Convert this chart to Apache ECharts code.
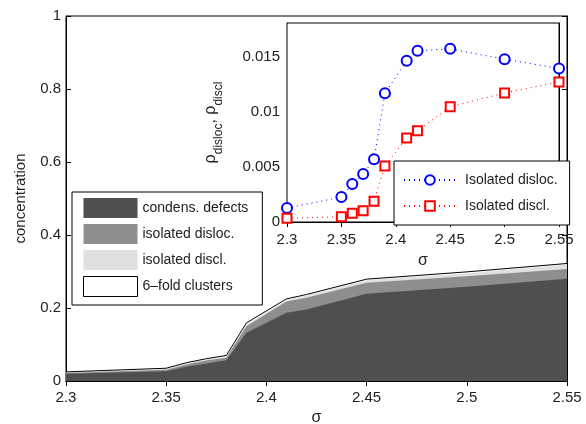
<!DOCTYPE html>
<html>
<head>
<meta charset="utf-8">
<script src="https://cdn.jsdelivr.net/npm/echarts@6/dist/echarts.min.js"></script>
<style>
  html, body { margin: 0; padding: 0; background: #fff; }
  #chart { width: 586px; height: 424px; }
</style>
</head>
<body>
<div id="chart"></div>
<script>
// sigma values shared by all curves
const sigma = [2.3, 2.35, 2.36, 2.37, 2.38, 2.39, 2.41, 2.42, 2.45, 2.5, 2.55];

// stacked concentration layers (main plot), bottom to top
const condensDefects = [0.020, 0.027, 0.039, 0.048, 0.057, 0.132, 0.187, 0.196, 0.239, 0.258, 0.280];
const isoDislocConc  = [0.002, 0.004, 0.006, 0.008, 0.007, 0.018, 0.031, 0.032, 0.030, 0.029, 0.027];
const isoDisclConc   = [0.002, 0.002, 0.002, 0.003, 0.003, 0.004, 0.004, 0.006, 0.007, 0.008, 0.012];
const sixFold        = [0.001, 0.002, 0.003, 0.002, 0.003, 0.005, 0.003, 0.003, 0.003, 0.004, 0.003];

// inset densities
const rhoDisloc = [0.00127, 0.00227, 0.00345, 0.00436, 0.0057, 0.0117, 0.01466, 0.01557, 0.01575, 0.0148, 0.01397];
const rhoDiscl  = [0.00034, 0.00048, 0.00079, 0.00103, 0.00188, 0.0051, 0.00764, 0.0083, 0.01048, 0.01173, 0.01273];

const mainNames = ['condens. defects', 'isolated disloc.', 'isolated discl.', '6\u2013fold clusters'];
const insetNames = ['Isolated disloc.', 'Isolated discl.'];

const FONT = "'Liberation Sans', Arial, sans-serif";
const TXT = '#222';
const FILLS = ['#4f4f4f', '#8e8e8e', '#e0e0e0', '#ffffff'];

function pairs(ys) {
  return sigma.map(function (s, i) { return [s, ys[i]]; });
}

// cumulative tops of the layers (area plot stacking)
let layers = [condensDefects, isoDislocConc, isoDisclConc, sixFold];
let tops = [];
let run = sigma.map(function () { return 0; });
layers.forEach(function (l) {
  run = run.map(function (v, i) { return v + l[i]; });
  tops.push(run.slice());
});

let chart = echarts.init(document.getElementById('chart'));

function xAx(grid, pos, labels, name, gap, margin) {
  return {
    type: 'value', gridIndex: grid, position: pos,
    min: 2.3, max: 2.55, interval: 0.05,
    axisLine: { show: true, lineStyle: { color: '#000', width: 1 } },
    axisTick: { show: true, inside: true, length: 5, lineStyle: { color: '#000' } },
    axisLabel: {
      show: labels, fontSize: 15, color: TXT, fontFamily: FONT, margin: margin,
      formatter: function (v) { return String(Math.round(v * 100) / 100); }
    },
    splitLine: { show: false },
    name: name, nameLocation: 'middle', nameGap: gap,
    nameTextStyle: { fontSize: 16, color: TXT, fontFamily: FONT }
  };
}

function yAx(grid, pos, max, interval, labels, digits, margin) {
  return {
    type: 'value', gridIndex: grid, position: pos, min: 0, max: max, interval: interval,
    axisLine: { show: true, lineStyle: { color: '#000' } },
    axisTick: { show: true, inside: true, length: 5, lineStyle: { color: '#000' } },
    axisLabel: { show: labels, fontSize: 15, color: TXT, fontFamily: FONT, margin: margin, showMaxLabel: max === 1,
      formatter: function (v) { return String(Math.round(v * digits) / digits); } },
    splitLine: { show: false }
  };
}

// main layers: draw the highest cumulative top first so lower ones cover it
let mainSeries = [];
for (let k = 3; k >= 0; k--) {
  mainSeries.push({
    name: mainNames[k], type: 'line', xAxisIndex: 0, yAxisIndex: 0,
    data: pairs(tops[k]), showSymbol: false, color: FILLS[k],
    itemStyle: { color: FILLS[k], borderColor: k === 3 ? '#000' : FILLS[k], borderWidth: k === 3 ? 1 : 0 },
    lineStyle: k === 3 ? { color: '#000', width: 1 } : { opacity: 0 },
    areaStyle: { color: FILLS[k], opacity: 1 }
  });
}

let leftY = yAx(0, 'left', 1, 0.2, true, 10, 5);
leftY.name = 'concentration';
leftY.nameLocation = 'middle';
leftY.nameGap = 38;
leftY.nameTextStyle = { fontSize: 15, color: TXT, fontFamily: FONT };

let insetY = yAx(1, 'left', 0.0181, 0.005, true, 1000, 7);
insetY.name = '{r|\u03c1}{s|disloc}{r|, \u03c1}{s|discl}';
insetY.nameLocation = 'middle';
insetY.nameGap = 62;
insetY.nameTextStyle = {
  color: TXT, fontFamily: FONT,
  rich: {
    r: { fontSize: 16, lineHeight: 22, verticalAlign: 'top', color: TXT, fontFamily: FONT },
    s: { fontSize: 12, lineHeight: 22, verticalAlign: 'bottom', color: TXT, fontFamily: FONT }
  }
};

const option = {
  animation: false,
  backgroundColor: '#fff',
  textStyle: { fontFamily: FONT },
  grid: [
    { left: 66, top: 16, width: 501, height: 365, show: true, borderColor: '#000', borderWidth: 1,
      backgroundColor: '#fff', outerBoundsMode: 'none', containLabel: false },
    { left: 287, top: 23, width: 272, height: 199, show: true, borderColor: '#000', borderWidth: 1,
      backgroundColor: '#fff', z: 3, outerBoundsMode: 'none', containLabel: false }
  ],
  legend: [
    {
      data: mainNames.map(function (n, i) {
        return { name: n, icon: 'rect',
          itemStyle: { color: FILLS[i], borderColor: i === 3 ? '#000' : FILLS[i], borderWidth: i === 3 ? 1 : 0 } };
      }),
      orient: 'vertical', left: 72, top: 192,
      padding: [6, 14, 8, 11], itemWidth: 54, itemHeight: 20, itemGap: 6,
      backgroundColor: '#fff', borderColor: '#000', borderWidth: 1,
      textStyle: { fontSize: 14, color: TXT, fontFamily: FONT },
      selectedMode: false
    },
    {
      data: insetNames,
      orient: 'vertical', left: 394, top: 161,
      padding: [12, 12, 12, 9], itemWidth: 52, itemHeight: 12, itemGap: 12,
      backgroundColor: '#fff', borderColor: '#000', borderWidth: 1,
      textStyle: { fontSize: 14, color: TXT, fontFamily: FONT, padding: [0, 0, 0, 4] },
      selectedMode: false, z: 6
    }
  ],
  xAxis: [
    xAx(0, 'bottom', true, '\u03c3', 28, 9),
    xAx(0, 'top', false, '', 0, 9),
    xAx(1, 'bottom', true, '\u03c3', 31, 10),
    xAx(1, 'top', false, '', 0, 9)
  ],
  yAxis: [
    leftY,
    yAx(0, 'right', 1, 0.2, false, 10, 5),
    insetY,
    yAx(1, 'right', 0.0181, 0.005, false, 1000, 5)
  ],
  series: mainSeries.concat([
    {
      name: insetNames[0], type: 'line', xAxisIndex: 2, yAxisIndex: 2, z: 5,
      data: pairs(rhoDisloc), symbol: 'emptyCircle', symbolSize: 10, color: '#0000ff',
      itemStyle: { color: '#0000ff', borderWidth: 1 },
      lineStyle: { color: '#0000ff', width: 1, type: [1, 4] }
    },
    {
      name: insetNames[1], type: 'line', xAxisIndex: 2, yAxisIndex: 2, z: 5,
      data: pairs(rhoDiscl), symbol: 'emptyRect', symbolSize: 9, color: '#ff0000',
      itemStyle: { color: '#ff0000', borderWidth: 1 },
      lineStyle: { color: '#ff0000', width: 1, type: [1, 4] }
    }
  ])
};

option && chart.setOption(option);
</script>
</body>
</html>
